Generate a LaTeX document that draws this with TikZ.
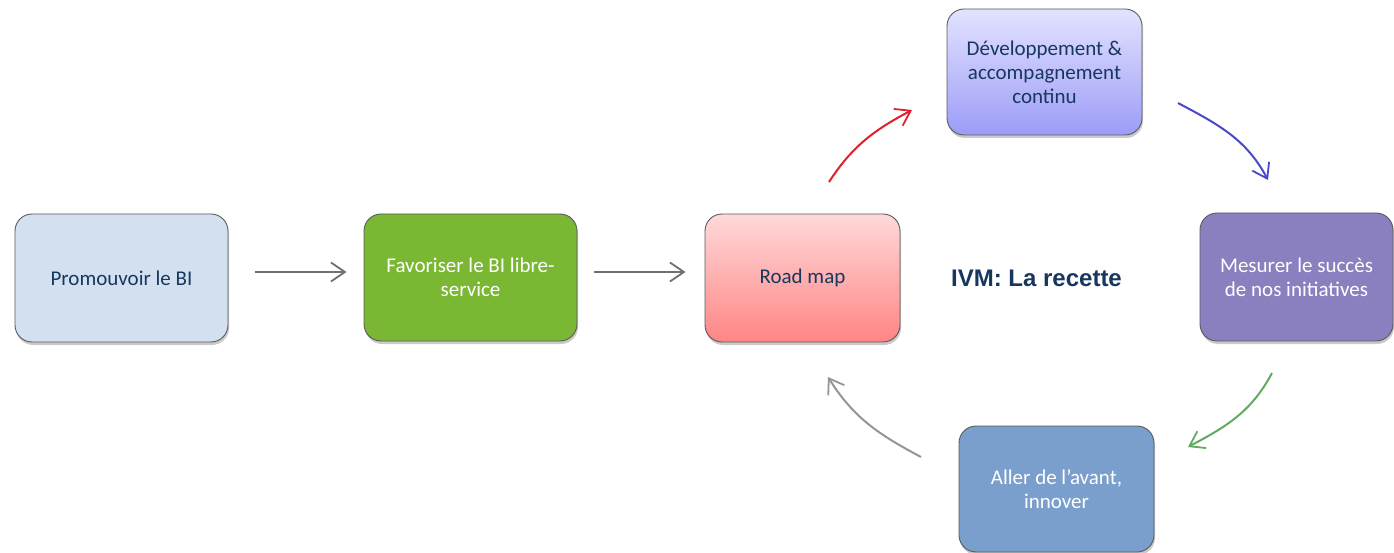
\documentclass[tikz,border=0pt]{standalone}
\usepackage{fontspec}
\setmainfont{Carlito}
\newfontfamily\titlefont{Liberation Sans}
\usetikzlibrary{arrows.meta,shadows}
\definecolor{navy}{HTML}{17375E}
\definecolor{boxA}{HTML}{D3E0F0}
\definecolor{boxB}{HTML}{7AB833}
\definecolor{boxE}{HTML}{8A80C0}
\definecolor{boxF}{HTML}{7B9FCC}
\definecolor{redtop}{HTML}{FFD9D9}
\definecolor{redbot}{HTML}{FF8585}
\definecolor{bluetop}{HTML}{E3E3FF}
\definecolor{bluebot}{HTML}{9C9CF8}
\definecolor{arrgray}{HTML}{707070}
\definecolor{arrgray2}{HTML}{959595}
\definecolor{arrred}{HTML}{E0202A}
\definecolor{arrblue}{HTML}{4848C8}
\definecolor{arrgreen}{HTML}{62AA62}
\definecolor{bordergray}{HTML}{5A5A5A}
\tikzset{
  stepbox/.style={draw=bordergray, line width=0.9pt, rounded corners=17pt,
    align=center, inner sep=0pt,
    font=\fontsize{21}{24}\selectfont,
    drop shadow={shadow xshift=1pt, shadow yshift=-3pt, opacity=0.35, fill=black!60}},
  flow/.style={line width=2pt, -{Straight Barb[length=14pt,width=19pt,line width=1.8pt]}}
}
\begin{document}
\begin{tikzpicture}[x=1pt,y=1pt]
\useasboundingbox (0,0) rectangle (1394,-553);
\node[stepbox, fill=boxA, text=navy, minimum width=213pt, minimum height=128pt] (A) at (121.5,-278) {Promouvoir le BI};
\node[stepbox, fill=boxB, text=white, minimum width=213pt, minimum height=127pt] (B) at (470.5,-277.5) {Favoriser le BI libre-\\service};
\node[stepbox, top color=redtop, bottom color=redbot, text=navy, minimum width=195pt, minimum height=128pt] (C) at (802.5,-278) {Road map};
\node[stepbox, top color=bluetop, bottom color=bluebot, text=navy, minimum width=195pt, minimum height=126pt] (D) at (1044.5,-72) {Développement \&\\accompagnement\\continu};
\node[stepbox, fill=boxE, text=white, minimum width=193pt, minimum height=128pt] (E) at (1296.5,-277) {Mesurer le succès\\de nos initiatives};
\node[stepbox, fill=boxF, text=white, minimum width=195pt, minimum height=126pt] (F) at (1056.5,-489) {Aller de l’avant,\\innover};
\node[font=\titlefont\bfseries\fontsize{24}{28}\selectfont, text=navy] (T) at (1036.5,-278) {IVM: La recette};

\draw[flow, arrgray, shorten <=27pt, shorten >=17pt] (A.east |- 0,-272) -- (B.west |- 0,-272);
\draw[flow, arrgray, shorten <=17pt, shorten >=19pt] (B.east |- 0,-272) -- (C.west |- 0,-272);

\coordinate (r1) at (829,-182);
\coordinate (r2) at (912,-110);
\coordinate (b1) at (1178,-103);
\coordinate (b2) at (1268,-180);
\coordinate (g1) at (1272,-373);
\coordinate (g2) at (1188,-447);
\coordinate (k1) at (921,-457);
\coordinate (k2) at (828,-377);
\draw[flow, arrred] (r1) to[out=57, in=208] (r2);
\draw[flow, arrblue] (b1) to[out=-28, in=118] (b2);
\draw[flow, arrgreen] (g1) to[out=-118, in=28] (g2);
\draw[flow, arrgray2] (k1) to[out=152, in=-58] (k2);
\end{tikzpicture}
\end{document}
